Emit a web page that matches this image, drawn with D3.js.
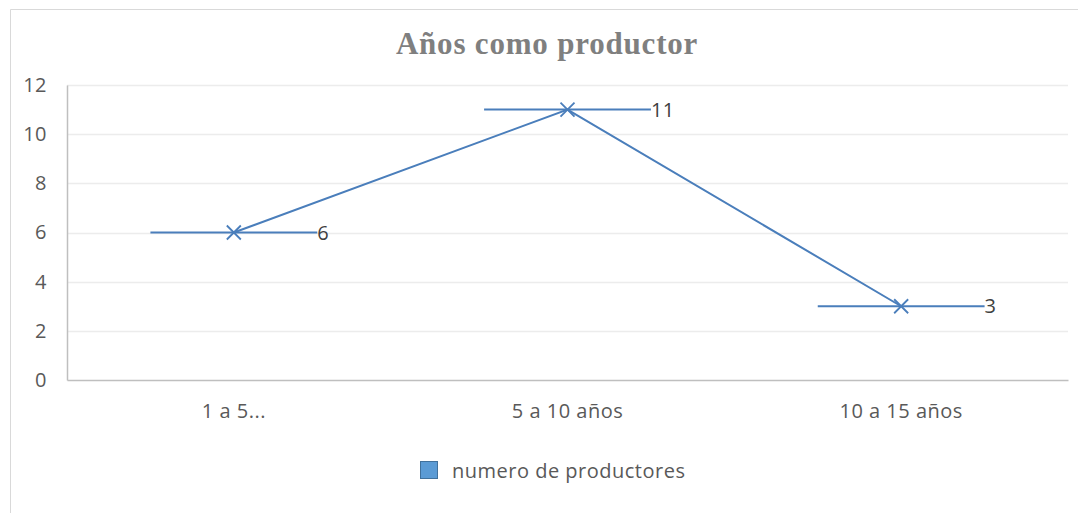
<!DOCTYPE html>
<html>
<head>
<meta charset="utf-8">
<script src="https://cdn.jsdelivr.net/npm/d3@7"></script>
<style>
  body { margin: 0; background: #fff; }
  svg { display: block; font-family: 'Open Sans', sans-serif; }
  .lbl { letter-spacing: 0.5px; }
</style>
</head>
<body>
<div id="chart"></div>
<script>
const categories = ['1 a 5...', '5 a 10 años', '10 a 15 años']
const values = [6, 11, 3]
const yTicks = [0, 2, 4, 6, 8, 10, 12]
const seriesName = 'numero de productores'
const title = 'Años como productor'

const W = 1078
const H = 513
const margin = { top: 85, right: 10, bottom: 133, left: 67 }
const width = W - margin.left - margin.right
const height = H - margin.top - margin.bottom

const svg = d3.select('#chart')
  .append('svg')
  .attr('width', W)
  .attr('height', H)

// outer frame
svg.append('path')
  .attr('d', `M10.5,${H} V9.5 H${W}`)
  .attr('fill', 'none')
  .attr('stroke', '#d9d9d9')

svg.append('text')
  .attr('x', 547)
  .attr('y', 54)
  .attr('text-anchor', 'middle')
  .attr('font-family', "'Liberation Serif', 'Times New Roman', serif")
  .attr('font-weight', 'bold')
  .attr('font-size', 31)
  .attr('letter-spacing', '0.8px')
  .attr('fill', '#7f7f7f')
  .text(title)

const g = svg.append('g')
  .attr('transform', `translate(${margin.left},${margin.top})`)

const x = d3.scaleBand()
  .domain(categories)
  .range([0, width])

const y = d3.scaleLinear()
  .domain([0, 12])
  .range([height, 0])

// gridlines
g.append('g')
  .selectAll('line')
  .data(yTicks.filter(d => d > 0))
  .join('line')
  .attr('x1', 0)
  .attr('x2', width)
  .attr('y1', d => Math.round(y(d)) + 0.5)
  .attr('y2', d => Math.round(y(d)) + 0.5)
  .attr('stroke', '#ececec')
  .attr('stroke-width', 1.5)

// y axis
const yAxis = g.append('g')
  .call(d3.axisLeft(y).tickValues(yTicks).tickSize(0).tickPadding(20))
yAxis.select('.domain').attr('stroke', '#bfbfbf').attr('stroke-width', 1.5)
yAxis.selectAll('text')
  .attr('class', 'lbl')
  .attr('font-size', 20)
  .attr('fill', '#595959')
  .attr('font-family', "'Open Sans', sans-serif")

// x axis
const xAxis = g.append('g')
  .attr('transform', `translate(0,${height})`)
  .call(d3.axisBottom(x).tickSize(0).tickPadding(24))
xAxis.select('.domain').attr('stroke', '#bfbfbf').attr('stroke-width', 1.5)
xAxis.selectAll('text')
  .attr('class', 'lbl')
  .attr('font-size', 20)
  .attr('fill', '#595959')
  .attr('font-family', "'Open Sans', sans-serif")

const cx = d => x(d) + x.bandwidth() / 2
const half = x.bandwidth() / 4
const lineColor = '#4a7ebb'

// horizontal bars at each point
g.append('g')
  .selectAll('line')
  .data(categories)
  .join('line')
  .attr('x1', d => cx(d) - half)
  .attr('x2', d => cx(d) + half)
  .attr('y1', (d, i) => y(values[i]))
  .attr('y2', (d, i) => y(values[i]))
  .attr('stroke', lineColor)
  .attr('stroke-width', 2)

// series line
g.append('path')
  .datum(categories)
  .attr('fill', 'none')
  .attr('stroke', lineColor)
  .attr('stroke-width', 2)
  .attr('d', d3.line().x(d => cx(d)).y((d, i) => y(values[i])))

// x markers
const m = 7
g.append('g')
  .selectAll('path')
  .data(categories)
  .join('path')
  .attr('d', (d, i) => {
    const px = cx(d)
    const py = y(values[i])
    return `M${px - m},${py - m}L${px + m},${py + m}M${px - m},${py + m}L${px + m},${py - m}`
  })
  .attr('stroke', lineColor)
  .attr('stroke-width', 1.8)
  .attr('fill', 'none')

// data labels
g.append('g')
  .selectAll('text')
  .data(categories)
  .join('text')
  .attr('class', 'lbl')
  .attr('x', d => cx(d) + half)
  .attr('y', (d, i) => y(values[i]))
  .attr('dy', '0.36em')
  .attr('font-size', 20)
  .attr('fill', '#404040')
  .text((d, i) => values[i])

// legend
const legend = svg.append('g')
  .attr('transform', 'translate(420,461)')
legend.append('rect')
  .attr('x', 0.5)
  .attr('y', 0.5)
  .attr('width', 17)
  .attr('height', 17)
  .attr('fill', '#5b9bd5')
  .attr('stroke', '#41719c')
legend.append('text')
  .attr('class', 'lbl')
  .attr('x', 32)
  .attr('y', 10)
  .attr('dy', '0.36em')
  .attr('font-size', 20)
  .attr('fill', '#595959')
  .text(seriesName)
</script>
</body>
</html>
